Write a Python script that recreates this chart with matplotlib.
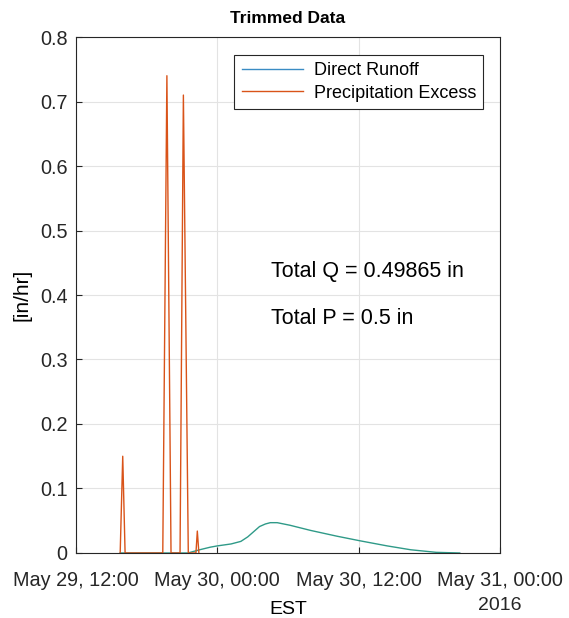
import numpy as np
import pandas as pd
import matplotlib.pyplot as plt
import matplotlib.dates as mdates
from matplotlib.lines import Line2D

plt.rcParams['font.family'] = ['Liberation Sans', 'DejaVu Sans']

# Precipitation excess (in/hr)
precip_time = ['2016-05-29 15:45', '2016-05-29 15:58', '2016-05-29 16:10',
               '2016-05-29 19:22', '2016-05-29 19:43', '2016-05-29 20:04',
               '2016-05-29 20:50', '2016-05-29 21:07', '2016-05-29 21:32',
               '2016-05-29 22:11', '2016-05-29 22:18', '2016-05-29 22:26']
precip_val = [0, 0.15, 0, 0, 0.74, 0, 0, 0.71, 0, 0, 0.034, 0]

# Direct runoff (in/hr)
runoff_time = ['2016-05-29 15:45', '2016-05-29 21:30', '2016-05-29 22:30',
               '2016-05-29 23:24', '2016-05-30 00:00', '2016-05-30 01:10',
               '2016-05-30 02:00', '2016-05-30 02:35', '2016-05-30 03:05',
               '2016-05-30 03:35', '2016-05-30 04:05', '2016-05-30 04:30',
               '2016-05-30 05:05', '2016-05-30 06:10', '2016-05-30 07:55',
               '2016-05-30 10:10', '2016-05-30 12:05', '2016-05-30 14:25',
               '2016-05-30 16:25', '2016-05-30 18:35', '2016-05-30 20:35']
runoff_val = [0, 0, 0.005, 0.009, 0.011, 0.014, 0.018, 0.025, 0.033,
              0.041, 0.045, 0.047, 0.047, 0.043, 0.035, 0.026, 0.019,
              0.011, 0.005, 0.001, 0]

total_q = 0.49865
total_p = 0.5

precip_t = pd.to_datetime(precip_time)
runoff_t = pd.to_datetime(runoff_time)

fig = plt.figure(figsize=(5.69, 6.18), dpi=100)
ax = fig.add_axes([0.1336, 0.1052, 0.7451, 0.8349])

runoff_color = '#2f9a88'
precip_color = '#D95319'
ax.plot(runoff_t, runoff_val, color=runoff_color, lw=1.0)
ax.plot(precip_t, precip_val, color=precip_color, lw=1.0)

ax.set_xlim(pd.Timestamp('2016-05-29 12:00'), pd.Timestamp('2016-05-31 00:00'))
ax.set_ylim(0, 0.8)
ax.set_yticks(np.arange(0, 0.81, 0.1))
ax.set_yticklabels(['0', '0.1', '0.2', '0.3', '0.4', '0.5', '0.6', '0.7', '0.8'])
ax.xaxis.set_major_locator(mdates.HourLocator(byhour=[0, 12]))
ax.xaxis.set_major_formatter(mdates.DateFormatter('%b %d, %H:%M'))

ax.grid(True, color='#e3e3e3', lw=0.8)
ax.set_axisbelow(True)
ax.tick_params(direction='in', labelsize=14.3, colors='#262626', length=4)
ax.tick_params(axis='x', pad=13)
ax.tick_params(axis='y', pad=6)
for s in ax.spines.values():
    s.set_color('#262626')
    s.set_linewidth(0.8)

ax.set_title('Trimmed Data', fontsize=12.5, fontweight='bold', pad=10)
ax.set_ylabel('[in/hr]', fontsize=15, labelpad=6)
ax.set_xlabel('EST', fontsize=14, labelpad=8)
ax.text(1.0, -0.102, '2016', transform=ax.transAxes, ha='center', va='center',
        fontsize=14, color='#262626')

tx = pd.Timestamp('2016-05-30 04:33')
ax.text(tx, 0.436, f'Total Q = {total_q} in', fontsize=15.5, va='center')
ax.text(tx, 0.363, f'Total P = {total_p} in', fontsize=15.5, va='center')

handles = [Line2D([], [], color='#3a8cc4', lw=1.0),
           Line2D([], [], color=precip_color, lw=1.0)]
leg = ax.legend(handles, ['Direct Runoff', 'Precipitation Excess'],
                loc='upper right', bbox_to_anchor=(0.961, 0.965), fontsize=13,
                fancybox=False, framealpha=1, edgecolor='#262626',
                handlelength=3.4, borderpad=0.4, labelspacing=0.3,
                handletextpad=0.6, borderaxespad=0)
leg.get_frame().set_linewidth(0.8)

fig.savefig('out.png', dpi=100, facecolor='white')
